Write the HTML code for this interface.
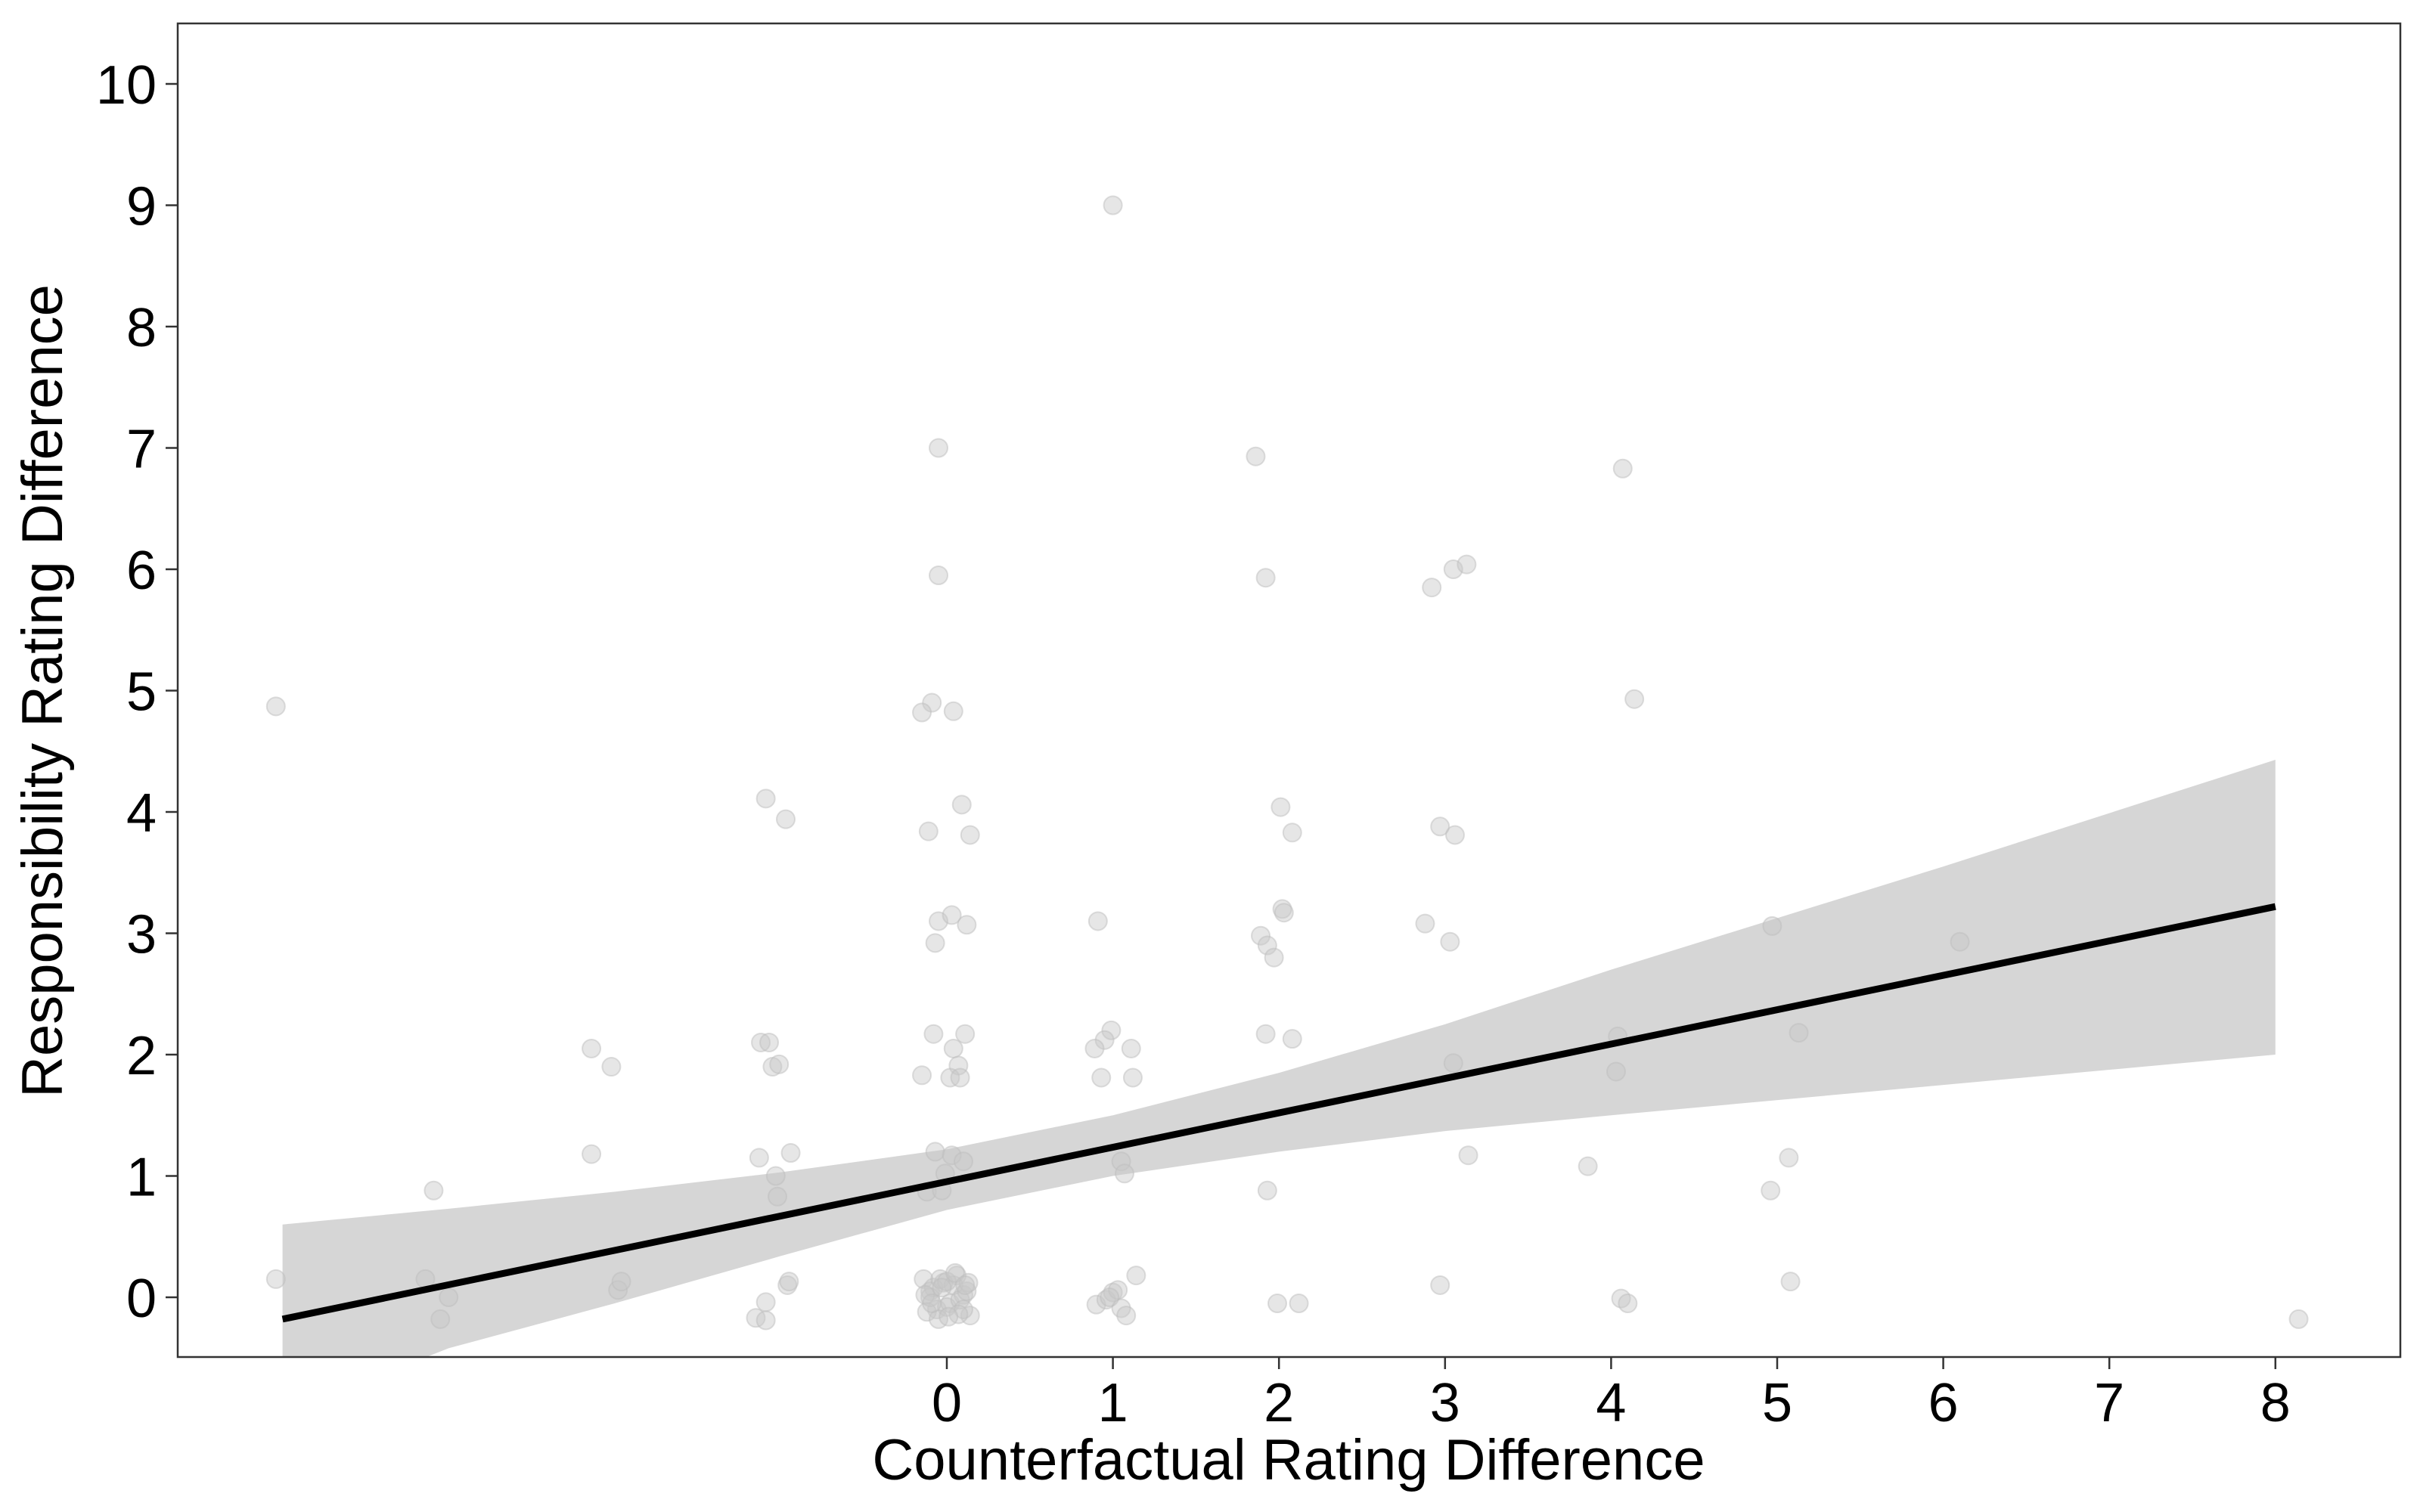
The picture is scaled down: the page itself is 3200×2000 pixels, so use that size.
<!DOCTYPE html>
<html><head><meta charset="utf-8"><style>
html,body{margin:0;padding:0;background:#fff;}
svg{display:block;font-family:"Liberation Sans",Arial,sans-serif;}
</style></head><body>
<svg id="chart" width="3200" height="2000" viewBox="0 0 3200 2000">
<rect x="0" y="0" width="3200" height="2000" fill="#fff"/>
<g id="band"></g>
<g id="points"></g>
<g id="line"></g>
<rect x="235" y="31" width="2939" height="1764" fill="none" stroke="#333" stroke-width="2.5"/>
<g id="xaxis"></g>
<g id="yaxis"></g>
<text x="1704" y="1957" font-size="76" text-anchor="middle">Counterfactual Rating Difference</text>
<text transform="translate(82,914) rotate(-90)" font-size="76" text-anchor="middle">Responsibility Rating Difference</text>
</svg>
<script>
const xTicks = [0,1,2,3,4,5,6,7,8];
const yTicks = [0,1,2,3,4,5,6,7,8,9,10];
const lineX = [-4, 8];
const lineY = [-0.18, 3.22];
const bandX = [-4,-3,-2,-1,0,1,2,3,4,6,8];
const bandUpper = [0.6,0.73,0.87,1.03,1.22,1.5,1.85,2.25,2.7,3.55,4.43];
const bandLower = [-0.96,-0.42,-0.05,0.34,0.72,1.0,1.2,1.37,1.5,1.75,2.0];
const ptX = [-4.04,-4.04,-3.09,-3.14,-3.05,-3.0,-2.14,-2.02,-2.14,-1.98,-1.96,-1.15,-1.09,-1.09,-1.13,-1.12,-1.07,-1.05,-1.01,-1.09,-0.97,-1.03,-1.02,-0.96,-0.95,-0.94,
 -0.05,-0.05,-0.09,-0.15,0.04,0.09,-0.11,0.14,-0.05,0.03,0.12,-0.07,-0.08,0.11,0.04,0.07,-0.15,0.02,0.08,-0.07,0.03,0.10,-0.01,-0.12,-0.03,
 -0.14,-0.10,-0.06,-0.02,0.02,0.06,0.10,0.14,-0.12,-0.08,-0.04,0.0,0.04,0.08,0.12,-0.10,-0.05,0.0,0.05,0.10,-0.13,-0.03,0.07,0.13,-0.09,0.01,0.11,
 1.0,0.91,0.99,0.95,1.11,0.89,0.93,1.12,1.05,1.07,0.90,0.96,1.00,1.05,1.08,1.14,1.03,0.98,
 1.86,1.92,2.01,2.08,2.02,2.03,1.89,1.93,1.97,1.92,2.08,1.93,1.99,2.12,
 2.92,3.05,3.13,2.97,3.06,2.88,3.03,3.05,3.14,2.97,
 4.07,4.14,4.04,4.03,3.86,4.06,4.10,
 4.97,5.13,5.07,4.96,5.08,6.1,8.14];
const ptY = [4.87,0.15,0.88,0.15,-0.18,0.0,2.05,1.9,1.18,0.06,0.13,-0.17,-0.19,-0.04,1.15,2.1,2.1,1.9,1.92,4.11,3.94,1.0,0.83,0.1,0.13,1.19,
 7.0,5.95,4.9,4.82,4.83,4.06,3.84,3.81,3.1,3.15,3.07,2.92,2.17,2.17,2.05,1.91,1.83,1.81,1.81,1.2,1.17,1.12,1.02,0.87,0.88,
 0.15,0.05,-0.1,0.12,-0.05,0.18,0.02,-0.15,-0.12,0.08,0.15,-0.08,0.1,-0.02,0.05,0.0,-0.18,0.13,0.2,-0.1,0.02,0.08,-0.14,0.12,-0.05,-0.16,0.1,
 9.0,3.1,2.2,2.12,2.05,2.05,1.81,1.81,1.12,1.02,-0.06,-0.02,0.04,-0.09,-0.15,0.18,0.06,0.0,
 6.93,5.93,4.04,3.83,3.2,3.17,2.98,2.9,2.8,2.17,2.13,0.88,-0.05,-0.05,
 5.85,6.0,6.04,3.88,3.81,3.08,2.93,1.93,1.17,0.1,
 6.83,4.93,2.15,1.86,1.08,-0.01,-0.05,
 3.06,2.18,1.15,0.88,0.13,2.93,-0.18];

const NS='http://www.w3.org/2000/svg';
const sx = v => 1252 + v*219.6;
const sy = v => 1716 - v*160.5;
const mk = (t, a) => { const e=document.createElementNS(NS,t); for(const k in a) e.setAttribute(k,a[k]); return e; };

const defs = mk('defs',{}); const cp = mk('clipPath',{id:'clip'});
cp.appendChild(mk('rect',{x:235,y:31,width:2939,height:1764}));
defs.appendChild(cp); document.getElementById('chart').prepend(defs);

let d='M'+bandX.map((x,i)=>sx(x)+','+sy(bandUpper[i])).join('L');
for(let i=bandX.length-1;i>=0;i--) d+='L'+sx(bandX[i])+','+sy(bandLower[i]);
d+='Z';
const band = mk('path',{d:d,fill:'#d6d6d6','clip-path':'url(#clip)'});


document.getElementById('band').appendChild(band);

const pg = document.getElementById('points');
for(let i=0;i<ptX.length;i++){
  const c = mk('circle',{cx:sx(ptX[i]),cy:sy(ptY[i]),r:12,fill:'#c8c8c8','fill-opacity':0.45,stroke:'#bdbdbd','stroke-opacity':0.5,'stroke-width':2});
  
  
  pg.appendChild(c);
}

const ln = mk('line',{x1:sx(lineX[0]),y1:sy(lineY[0]),x2:sx(lineX[1]),y2:sy(lineY[1]),stroke:'#000','stroke-width':9});


document.getElementById('line').appendChild(ln);

const xg = document.getElementById('xaxis');
xTicks.forEach(v=>{
  const t = mk('line',{x1:sx(v),y1:1795,x2:sx(v),y2:1811,stroke:'#333','stroke-width':2.5});
  
  
  xg.appendChild(t);
  const l = mk('text',{x:sx(v),y:1880,'font-size':72,'text-anchor':'middle'});
  l.textContent = v;
  
  
  xg.appendChild(l);
});
const yg = document.getElementById('yaxis');
yTicks.forEach(v=>{
  const t = mk('line',{x1:219,y1:sy(v),x2:235,y2:sy(v),stroke:'#333','stroke-width':2.5});
  
  
  yg.appendChild(t);
  const l = mk('text',{x:207,y:sy(v)+26,'font-size':72,'text-anchor':'end'});
  l.textContent = v;
  
  
  yg.appendChild(l);
});
</script>
</body></html>
